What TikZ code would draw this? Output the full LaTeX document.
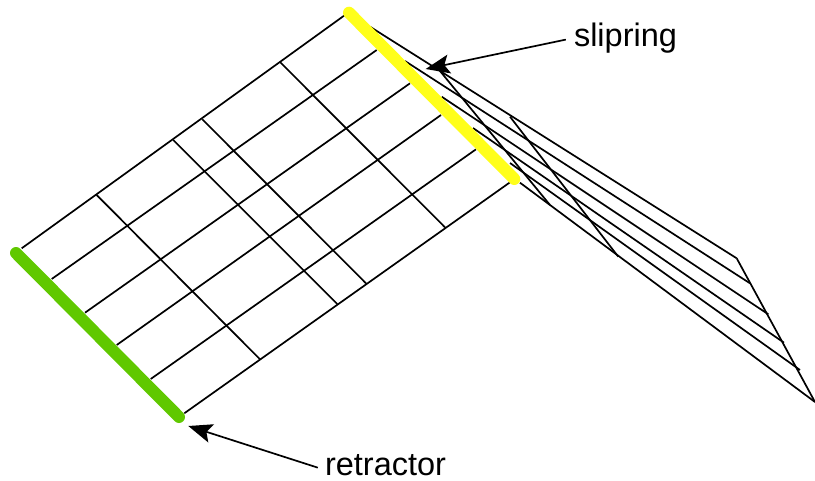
\documentclass[tikz,border=0pt]{standalone}
\usepackage{fontspec}
\setmainfont{Liberation Sans}
\usetikzlibrary{arrows.meta}
\definecolor{ringyellow}{RGB}{255,255,26}
\definecolor{retgreen}{RGB}{96,200,0}
\tikzset{
  webline/.style={draw=black,line width=1.7pt,line cap=butt},
  bar/.style={line width=12pt,line cap=round},
  label/.style={inner sep=0pt,font=\fontsize{32.5}{36}\selectfont,anchor=base},
  callout/.style={draw=black,line width=1.7pt,-{Stealth[length=24pt,width=19pt,inset=5pt]}}
}
\begin{document}
\begin{tikzpicture}[x=1pt,y=-1pt]
\useasboundingbox (0,0) rectangle (815,480);
% left web ends on retractor
\coordinate (a1) at (21.7,248.3);
\coordinate (a2) at (51.7,279);
\coordinate (a3) at (85,312.7);
\coordinate (a4) at (116.7,345);
\coordinate (a5) at (150.7,379);
\coordinate (a6) at (184.3,413.3);
% web ends on slipring, retractor side
\coordinate (b1) at (345,15);
\coordinate (b2) at (376.7,50);
\coordinate (b3) at (410,83.3);
\coordinate (b4) at (441,115);
\coordinate (b5) at (476,149.3);
\coordinate (b6) at (510,182.3);
% web ends on slipring, free side
\coordinate (c1) at (370,26.7);
\coordinate (c2) at (405,61);
\coordinate (c3) at (441.7,96.7);
\coordinate (c4) at (473,128);
\coordinate (c5) at (510,163);
\coordinate (c6) at (520,182.7);
% free ends
\coordinate (d1) at (736.7,258.3);
\coordinate (d2) at (750,283.3);
\coordinate (d3) at (768.3,314.3);
\coordinate (d4) at (784,342.7);
\coordinate (d5) at (800,370);
\coordinate (d6) at (815,402);
% cross lines, retractor side
\coordinate (x1s) at (96.7,195);   \coordinate (x1e) at (260,359.3);
\coordinate (x2s) at (173.3,140);  \coordinate (x2e) at (337.3,304);
\coordinate (x3s) at (202.3,119.3);\coordinate (x3e) at (366,283.3);
\coordinate (x4s) at (280,62);     \coordinate (x4e) at (445,227.3);
% cross lines, free side
\coordinate (y1s) at (440,71);     \coordinate (y1e) at (550,205);
\coordinate (y2s) at (510,116.7);  \coordinate (y2e) at (618.3,256.7);
% bar ends
\coordinate (g1) at (16,253);  \coordinate (g2) at (179,417);
\coordinate (r1) at (349,12.7);\coordinate (r2) at (514.3,179);
% arrow tips
\coordinate (tipS) at (425.7,69);
\coordinate (tipR) at (188.3,426);

\foreach \i in {1,...,6} {
  \draw[webline] (a\i) -- (b\i);
  \draw[webline] (c\i) -- (d\i);
}
\draw[webline] (d1) -- (d6);
\foreach \i in {1,...,4} \draw[webline] (x\i s) -- (x\i e);
\foreach \i in {1,2} \draw[webline] (y\i s) -- (y\i e);
\draw[bar,draw=retgreen] (g1) -- (g2);
\draw[bar,draw=ringyellow] (r1) -- (r2);

\node[label] (slip) at (625.5,46) {slipring};
\node[label] (retr) at (385.5,475.5) {retractor};
\path (slip.west) ++(-8,2) coordinate (sS);
\path (retr.west) ++(-7,2.5) coordinate (sR);
\draw[callout] (sS) -- (tipS);
\draw[callout] (sR) -- (tipR);
\end{tikzpicture}
\end{document}
